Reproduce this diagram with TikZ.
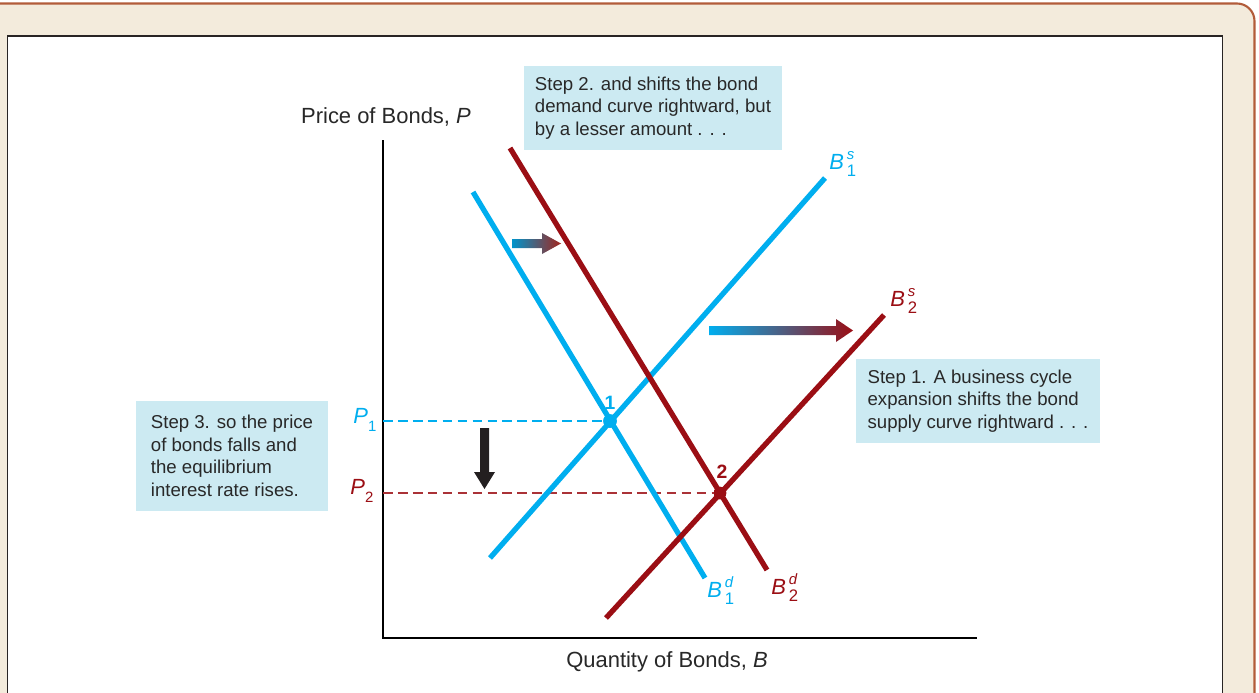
\documentclass[tikz,border=0pt]{standalone}
\usepackage{fontspec}
\setmainfont{Liberation Sans}
\usetikzlibrary{positioning,arrows.meta,calc}
\definecolor{BondBlue}{RGB}{0,174,239}
\definecolor{BondRed}{RGB}{155,14,20}
\definecolor{StepFill}{RGB}{204,234,242}
\definecolor{StepText}{RGB}{40,40,40}
\definecolor{FrameCream}{RGB}{243,235,220}
\definecolor{FrameRust}{RGB}{178,92,58}
\definecolor{PanelEdge}{RGB}{40,36,36}
\definecolor{ArrowInk}{RGB}{35,31,32}
\tikzset{
  curve/.style={line width=3pt,line cap=butt},
  bluecurve/.style={curve,draw=BondBlue},
  redcurve/.style={curve,draw=BondRed},
  guide/.style={line width=0.6pt,dash pattern=on 5.5pt off 3pt},
  axis/.style={line width=0.8pt,draw=black},
  stepbox/.style={fill=StepFill,draw=none,align=left,inner sep=0pt,
    font=\fontsize{10.6}{12.8}\selectfont,text=StepText},
  eqdot/.style={circle,inner sep=0pt,minimum size=0.27cm},
  curvelabel/.style={font=\fontsize{12.5}{14}\selectfont,inner sep=0pt,anchor=base west},
  eqlabel/.style={font=\fontsize{11}{13}\selectfont\bfseries,inner sep=0pt},
  axislabel/.style={font=\fontsize{12.5}{14}\selectfont,text=StepText}
}
% curve name with stacked super- and subscript
\newcommand{\bondlab}[3]{\textit{#1}\hspace{1.6pt}%
  \rlap{\raisebox{5.2pt}{\fontsize{8.5}{9}\selectfont\textit{#2}}}%
  \raisebox{-4.2pt}{\fontsize{9.5}{10}\selectfont #3}}
\newcommand{\pricelab}[1]{\textit{P}\raisebox{-4.6pt}{\fontsize{8.5}{9}\selectfont #1}}

\begin{document}
\begin{tikzpicture}[x=0.02cm,y=-0.02cm]
  \useasboundingbox (0,0) rectangle (1259,693);
  % frame and panel
  \draw[FrameRust,line width=1.2pt,fill=FrameCream,rounded corners=0.35cm]
    (-40,3.5) rectangle (1254.5,760);
  \draw[PanelEdge,line width=0.7pt,fill=white] (7.3,36) rectangle (1222.5,760);

  % step boxes
  \node[stepbox,minimum width=5.18cm,minimum height=1.68cm] (step2) at (653,108) {
    Step 2. and shifts the bond\\
    demand curve rightward, but\\
    by a lesser amount . . .
  };
  \node[stepbox,minimum width=4.9cm,minimum height=1.68cm] (step1) at (978,401) {
    Step 1. A business cycle\\
    expansion shifts the bond\\
    supply curve rightward . . .
  };
  \node[stepbox,minimum width=3.84cm,minimum height=2.2cm] (step3) at (232,456) {
    Step 3. so the price\\
    of bonds falls and\\
    the equilibrium\\
    interest rate rises.
  };

  % axes
  \coordinate (origin) at (383,638);
  \coordinate (ytop) at (383,140);
  \coordinate (xend) at (977,638);
  \draw[axis] (ytop) -- (origin) -- (xend);
  \node[axislabel] (ylab) at (386,117) {Price of Bonds, \textit{P}};
  \node[axislabel] (xlab) at (667,662) {Quantity of Bonds, \textit{B}};

  % equilibria and price guides
  \coordinate (p1tick) at (383,421);
  \coordinate (p2tick) at (383,493);
  \node[eqdot,fill=BondBlue] (eq1) at (610,421) {};
  \node[eqdot,fill=BondRed,minimum size=0.25cm] (eq2) at (720,493) {};
  \draw[guide,BondBlue] (p1tick) -- (eq1.center);
  \draw[guide,BondRed!85!white] (p2tick) -- (eq2.center);

  % curves
  \coordinate (d1a) at (473,192);
  \coordinate (d1b) at (705,578);
  \coordinate (s1a) at (490,558);
  \coordinate (s1b) at (825,178);
  \coordinate (d2a) at (510,148);
  \coordinate (d2b) at (767,570);
  \coordinate (s2a) at (606,618);
  \coordinate (s2b) at (884,315);
  \draw[bluecurve] (d1a) -- (d1b);
  \draw[bluecurve] (s1a) -- (s1b);
  \draw[redcurve] (d2a) -- (d2b);
  \draw[redcurve] (s2a) -- (s2b);
  \node[eqdot,fill=BondBlue] at (eq1) {};
  \node[eqdot,fill=BondRed,minimum size=0.25cm] at (eq2) {};

  % labels
  \node[eqlabel,text=BondBlue,above=0.09cm of eq1] (n1) {1};
  \node[eqlabel,text=BondRed,above=0.15cm of eq2,xshift=0.04cm] (n2) {2};
  \node[curvelabel,text=BondBlue] (ls1) at (829,169) {\bondlab{B}{s}{1}};
  \node[curvelabel,text=BondRed] (ls2) at (890,306) {\bondlab{B}{s}{2}};
  \node[curvelabel,text=BondBlue] (ld1) at (707,597) {\bondlab{B}{d}{1}};
  \node[curvelabel,text=BondRed] (ld2) at (771,594) {\bondlab{B}{d}{2}};
  \node[curvelabel,text=BondBlue] (lp1) at (353,423) {\pricelab{1}};
  \node[curvelabel,text=BondRed] (lp2) at (350,494) {\pricelab{2}};

  % shift arrows
  \shade[left color=BondBlue!85!black,right color=BondRed!80!brown]
    (512,239) -- (542,239) -- (542,233) -- (561,243.5) -- (542,254)
    -- (542,248) -- (512,248) -- cycle;
  \shade[left color=BondBlue,right color=BondRed]
    (709,326) -- (836,326) -- (836,319) -- (853,330.5) -- (836,342)
    -- (836,335) -- (709,335) -- cycle;
  \fill[ArrowInk] (480,428) -- (489,428) -- (489,472) -- (495,472)
    -- (484.5,489) -- (474,472) -- (480,472) -- cycle;
\end{tikzpicture}
\end{document}
